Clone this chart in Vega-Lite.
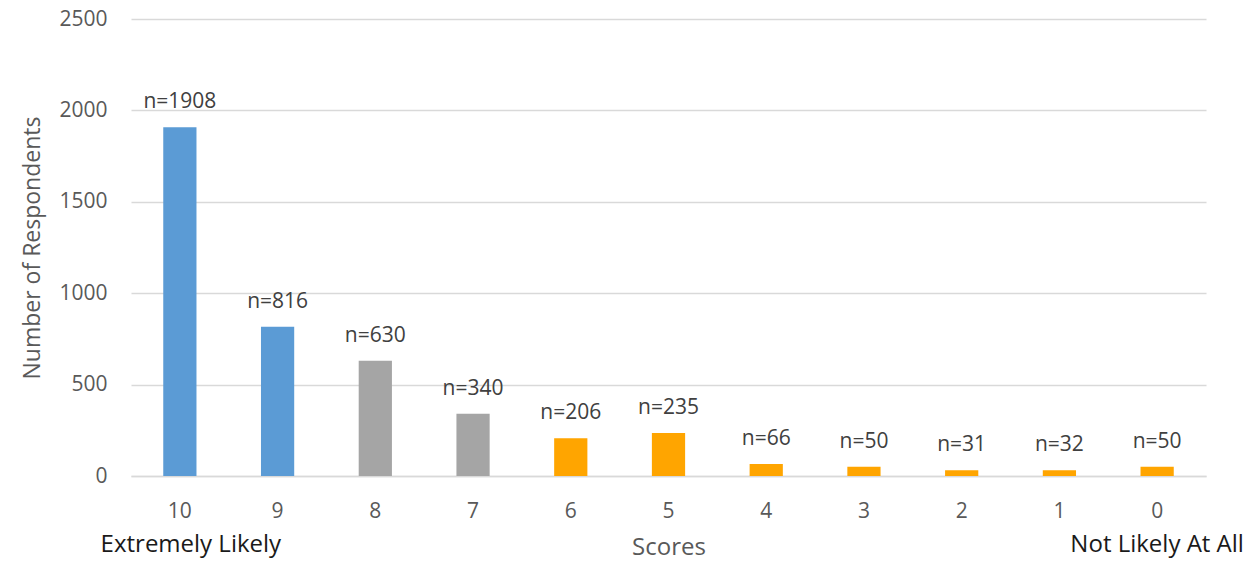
{
  "$schema": "https://vega.github.io/schema/vega-lite/v6.json",
  "autosize": "none",
  "width": 1075,
  "height": 457,
  "padding": {"left": 131, "top": 19, "right": 52, "bottom": 87},
  "background": "white",
  "config": {
    "view": {"stroke": null},
    "font": "Open Sans"
  },
  "data": {
    "values": [
      {"score": 10, "respondents": 1908, "group": "Promoter"},
      {"score": 9, "respondents": 816, "group": "Promoter"},
      {"score": 8, "respondents": 630, "group": "Passive"},
      {"score": 7, "respondents": 340, "group": "Passive"},
      {"score": 6, "respondents": 206, "group": "Detractor"},
      {"score": 5, "respondents": 235, "group": "Detractor"},
      {"score": 4, "respondents": 66, "group": "Detractor"},
      {"score": 3, "respondents": 50, "group": "Detractor"},
      {"score": 2, "respondents": 31, "group": "Detractor"},
      {"score": 1, "respondents": 32, "group": "Detractor"},
      {"score": 0, "respondents": 50, "group": "Detractor"}
    ]
  },
  "encoding": {
    "y": {
      "field": "respondents",
      "type": "quantitative",
      "scale": {"domain": [0, 2500]},
      "axis": {
        "title": "Number of Respondents",
        "values": [0, 500, 1000, 1500, 2000, 2500],
        "format": "d",
        "domain": false,
        "ticks": false,
        "grid": true,
        "gridColor": "#d9d9d9",
        "gridWidth": 1.5,
        "labelFont": "Open Sans",
        "labelFontSize": 21,
        "labelColor": "#595959",
        "labelPadding": 24,
        "titleFont": "Open Sans",
        "titleFontSize": 23,
        "titleFontWeight": "normal",
        "titleColor": "#595959",
        "titlePadding": 14
      }
    }
  },
  "layer": [
    {
      "mark": {"type": "bar"},
      "encoding": {
        "x": {
          "field": "score",
          "type": "ordinal",
          "sort": "descending",
          "scale": {"paddingInner": 0.66, "paddingOuter": 0.33},
          "axis": {
            "title": "Scores",
            "labelAngle": 0,
            "domain": true,
            "domainColor": "#d9d9d9",
            "domainWidth": 1.5,
            "ticks": false,
            "grid": false,
            "labelFont": "Open Sans",
            "labelFontSize": 21,
            "labelColor": "#595959",
            "labelPadding": 24,
            "titleFont": "Open Sans",
            "titleFontSize": 24,
            "titleFontWeight": "normal",
            "titleColor": "#595959",
            "titlePadding": 14
          }
        },
        "color": {
          "field": "group",
          "type": "nominal",
          "scale": {
            "domain": ["Promoter", "Passive", "Detractor"],
            "range": ["#5b9bd5", "#a5a5a5", "#ffa500"]
          },
          "legend": null
        }
      }
    },
    {
      "mark": {
        "type": "text",
        "baseline": "alphabetic",
        "dy": -19,
        "font": "Open Sans",
        "fontSize": 21,
        "color": "#404040",
        "text": {"expr": "'n=' + datum.respondents"}
      },
      "encoding": {
        "x": {
          "field": "score",
          "type": "ordinal",
          "sort": "descending",
          "axis": {
            "orient": "bottom",
            "title": null,
            "domain": false,
            "ticks": false,
            "grid": false,
            "labelAngle": 0,
            "labelOverlap": false,
            "labelBound": false,
            "labelLimit": 0,
            "labelOffset": {"condition": {"test": "datum.value == 10", "value": 11}, "value": 0},
            "labelFont": "Open Sans",
            "labelFontSize": 24,
            "labelColor": "#1a1a1a",
            "labelPadding": 56,
            "labelExpr": "datum.value == 10 ? 'Extremely Likely' : datum.value == 0 ? 'Not Likely At All' : ''"
          }
        }
      }
    }
  ],
  "resolve": {"axis": {"x": "independent"}}
}
